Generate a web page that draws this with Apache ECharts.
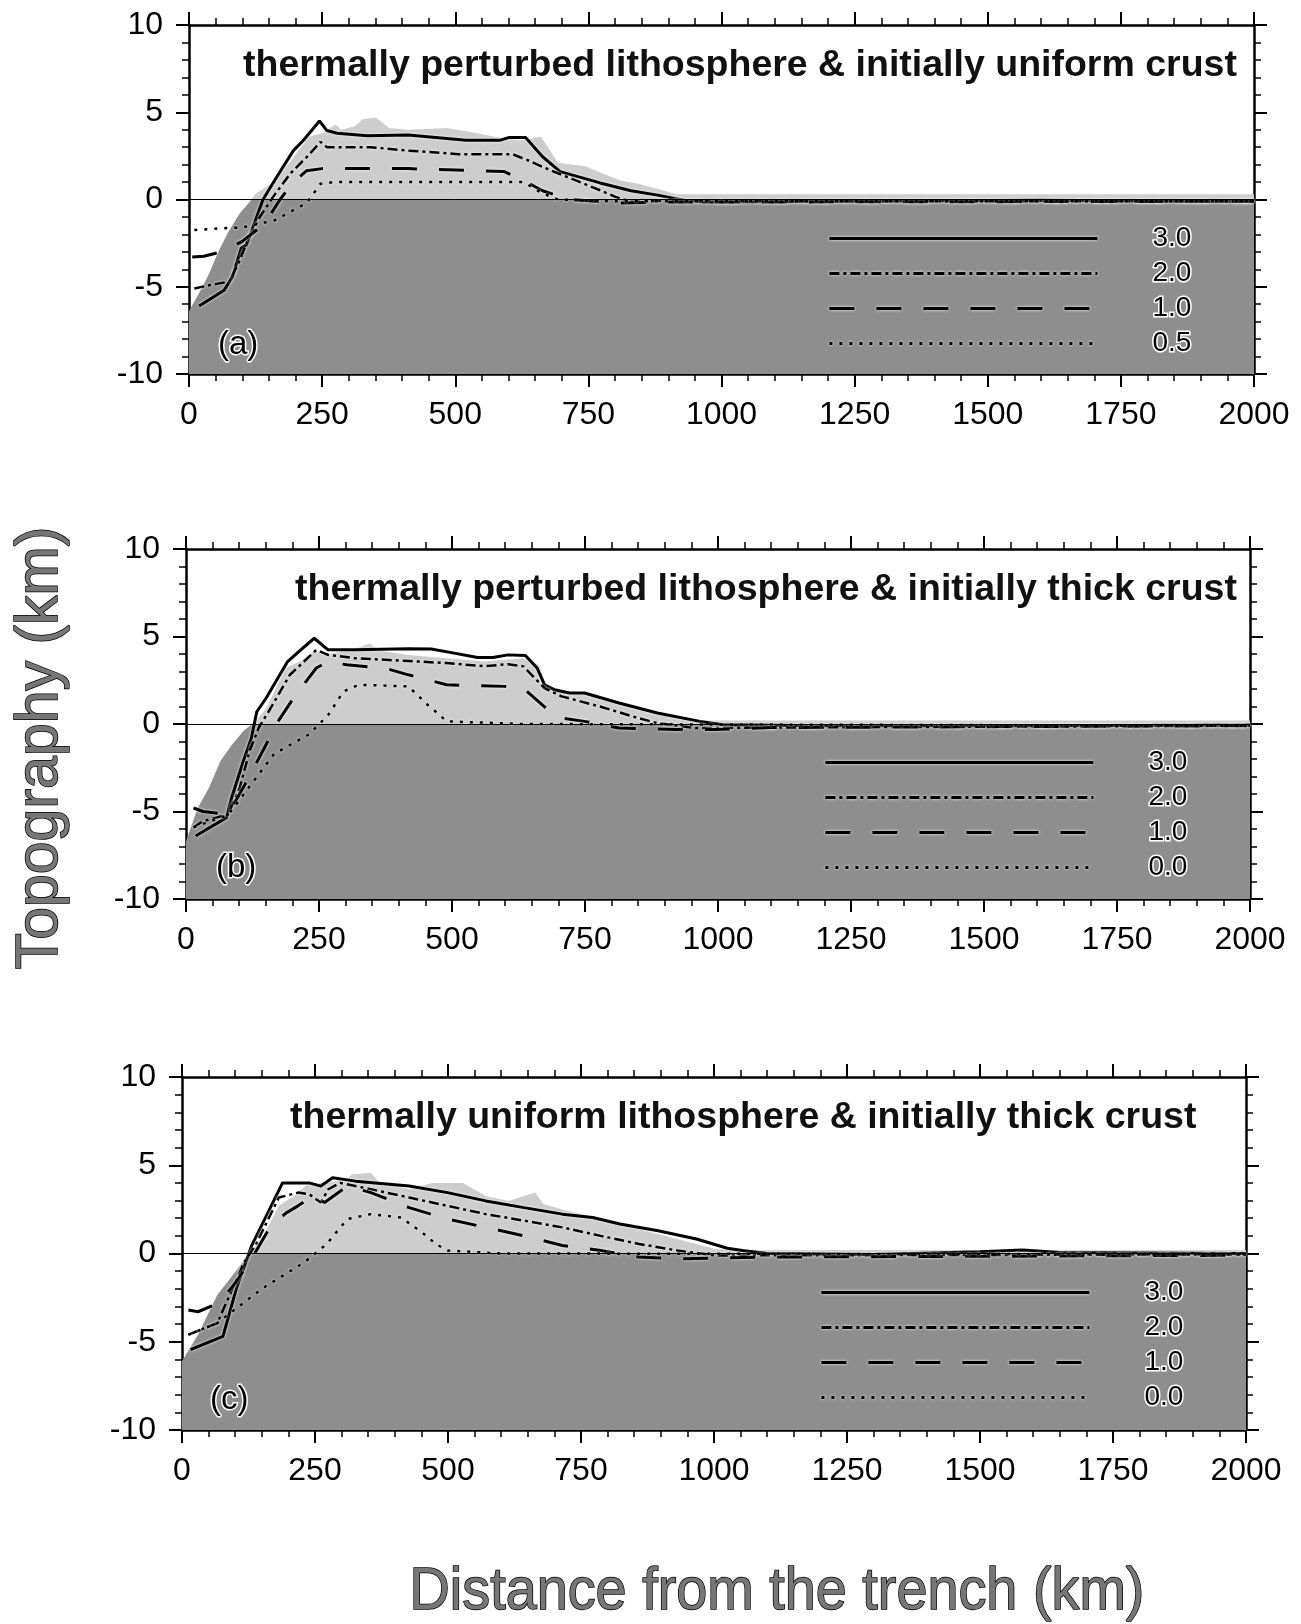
<!DOCTYPE html>
<html><head><meta charset="utf-8">
<script src="https://cdn.jsdelivr.net/npm/echarts@6/dist/echarts.min.js"></script>
<style>html,body{margin:0;padding:0;background:#fff}#c{width:1301px;height:1624px}</style>
</head><body><div id="c"></div>
<script>
// ---------------- data (km) ----------------
const panelTitles = [
  'thermally perturbed lithosphere & initially uniform crust',
  'thermally perturbed lithosphere & initially thick crust',
  'thermally uniform lithosphere & initially thick crust'
];
const panelTags = ['(a)', '(b)', '(c)'];
const legendLabelsA = ['3.0', '2.0', '1.0', '0.5'];
const legendLabelsBC = ['3.0', '2.0', '1.0', '0.0'];

// panel (a)
const aEnvelope = [[0,-6.4],[20,-5.3],[37,-4.3],[55,-3.0],[73,-1.9],[95,-0.8],[115,-0.1],[124,0.3],[153,0.9],[175,1.6],[196,2.4],[225,3.6],[250,3.8],[275,4.3],[286,4.0],[311,4.2],[326,4.6],[351,4.7],[376,4.1],[412,4.0],[484,4.1],[542,3.8],[590,3.5],[628,3.4],[661,3.6],[693,2.1],[744,1.9],[808,1.1],[844,0.9],[916,0.3],[960,0.3],[1500,0.3],[1850,0.3],[2000,0.3]];
const aCurve30 = [[19,-6.1],[66,-5.2],[82,-4.4],[98,-2.8],[108,-2.6],[139,0],[165,1.3],[196,2.8],[215,3.4],[245,4.5],[259,3.95],[278,3.8],[335,3.65],[412,3.7],[520,3.4],[585,3.4],[600,3.55],[632,3.55],[664,2.45],[697,1.6],[772,0.95],[830,0.5],[880,0.25],[931,-0.05],[967,-0.15],[1200,-0.1],[1600,-0.05],[1900,-0.1],[2000,-0.1]];
const aCurve20 = [[10,-5.1],[40,-4.9],[76,-4.7],[95,-3.5],[108,-2.5],[133,-1.0],[158,0.15],[190,1.48],[221,2.43],[247,3.3],[259,3.0],[340,3.0],[412,2.8],[506,2.6],[607,2.6],[636,2.25],[664,1.87],[693,1.5],[772,0.53],[801,0.15],[830,-0.13],[916,-0.05],[1200,-0.1],[2000,-0.1]];
const aCurve10 = [[6,-3.3],[28,-3.25],[60,-3.0],[100,-2.4],[127,-1.75],[146,-1.2],[171,0],[196,1.0],[221,1.65],[250,1.77],[412,1.77],[592,1.6],[628,1.1],[664,0.5],[715,0],[808,-0.2],[900,-0.15],[2000,-0.1]];
const aCurve05 = [[10,-1.75],[63,-1.65],[100,-1.6],[160,-1.2],[221,-0.2],[247,0.9],[272,1.0],[628,1.0],[664,0.35],[693,0],[800,-0.1],[2000,-0.1]];

// panel (b)
const bEnvelope = [[0,-6.7],[22,-4.8],[43,-3.65],[65,-2.1],[86,-1.2],[108,-0.4],[130,0.15],[151,0.9],[187,3.2],[216,3.6],[241,4.2],[259,3.95],[317,4.3],[346,4.6],[360,4.2],[418,3.95],[490,3.76],[562,3.57],[634,3.76],[663,3.4],[677,2.24],[706,1.96],[778,1.48],[850,0.9],[937,0.34],[980,0.2],[2000,0.2]];
const bCurve30 = [[18,-6.4],[76,-5.35],[86,-4.2],[108,-2.1],[123,-0.8],[133,0.7],[151,1.5],[191,3.57],[212,4.14],[241,4.9],[267,4.24],[317,4.24],[418,4.3],[461,4.28],[504,4.05],[548,3.8],[577,3.8],[605,3.95],[638,3.92],[660,3.2],[674,2.24],[692,1.96],[721,1.77],[749,1.77],[814,1.2],[886,0.63],[966,0.15],[1009,-0.04],[1200,-0.1],[1600,-0.1],[2000,-0.05]];
const bCurve20 = [[14,-5.9],[32,-5.55],[79,-5.17],[101,-3.65],[120,-1.5],[137,-0.2],[159,0.9],[195,2.8],[216,3.4],[245,4.24],[267,3.95],[317,3.76],[418,3.6],[490,3.48],[562,3.3],[605,3.42],[634,3.3],[674,2.05],[706,1.58],[778,1.0],[850,0.34],[886,0.05],[958,-0.23],[1100,-0.2],[2000,-0.1]];
const bCurve10 = [[14,-4.8],[32,-5.0],[79,-5.17],[110,-3.5],[144,-1.56],[173,0.15],[202,1.48],[245,3.2],[267,3.57],[302,3.38],[374,3.19],[418,2.81],[490,2.24],[598,2.15],[634,2.05],[677,0.9],[706,0.34],[749,0.15],[814,-0.23],[922,-0.32],[994,-0.32],[1100,-0.2],[2000,-0.1]];
const bCurve00 = [[14,-5.9],[79,-5.2],[166,-1.7],[231,-0.6],[267,0.5],[296,1.86],[324,2.24],[418,2.15],[454,1.1],[476,0.53],[490,0.15],[634,0],[2000,-0.1]];

// panel (c)
const cEnvelope = [[0,-6.1],[30,-4.6],[66,-2.36],[95,-1.24],[124,-0.1],[153,1.0],[182,2.7],[210,3.26],[239,4.0],[268,4.0],[311,4.2],[319,4.48],[355,4.57],[369,4.1],[427,3.64],[470,4.0],[528,4.0],[571,3.26],[614,2.98],[643,3.26],[664,3.45],[679,2.8],[715,2.5],[787,1.95],[859,1.39],[931,0.82],[1003,0.26],[1050,0.2],[2000,0.2]];
const cCurve30 = [[16,-5.45],[77,-4.7],[102,-2.0],[131,0.45],[189,4.0],[239,4.0],[261,3.82],[283,4.29],[326,4.1],[427,3.82],[499,3.45],[571,2.98],[643,2.6],[715,2.23],[772,2.04],[823,1.67],[895,1.29],[967,0.82],[1025,0.3],[1053,0.17],[1100,0.0],[1300,-0.05],[1500,0.1],[1580,0.2],[1650,0.05],[2000,0.0]];
const cCurve20 = [[12,-4.6],[66,-3.95],[95,-2.0],[117,-0.49],[138,0.45],[182,3.17],[218,3.45],[239,3.36],[261,2.89],[275,3.64],[297,4.0],[355,3.64],[427,3.17],[499,2.7],[571,2.23],[643,1.86],[715,1.48],[787,1.0],[859,0.54],[931,0.17],[1003,-0.11],[1200,-0.1],[2000,-0.05]];
const cCurve10 = [[12,-3.2],[30,-3.3],[70,-2.8],[102,-1.6],[138,0.07],[167,1.57],[196,2.3],[218,2.7],[246,3.26],[268,2.89],[311,3.82],[355,3.45],[427,2.6],[499,1.95],[571,1.48],[643,1.0],[715,0.45],[787,0.17],[859,-0.2],[931,-0.3],[1100,-0.2],[2000,-0.1]];
const cCurve00 = [[12,-4.6],[66,-3.95],[150,-2.0],[230,-0.5],[272,0.54],[290,1.2],[311,1.95],[355,2.23],[412,2.04],[455,1.1],[477,0.54],[499,0.17],[600,0],[2000,-0.05]];

// ---------------- layout & style ----------------
const FONT = '"Liberation Sans", Arial, Helvetica, sans-serif';
const DARK = '#8e8e8e', LIGHT = '#cdcdcd';
const grids = [
  {left: 189, top: 25, width: 1065, height: 349},
  {left: 186, top: 549, width: 1064, height: 350},
  {left: 182, top: 1077, width: 1064, height: 353}
];
const titleLeft = [243, 295, 290];
const tagPos = [[218, 328], [216, 851], [210, 1383]];
const legendPos = [[828, 223], [824, 747], [820, 1277]];
const lineStyles = [
  {type: 'solid', width: 3},
  {type: [10, 4, 3, 4], width: 2.5},
  {type: [25, 22], width: 3},
  {type: [3, 7], width: 2.5}
];

const panels = [
  {env: aEnvelope, curves: [aCurve30, aCurve20, aCurve10, aCurve05], labels: legendLabelsA},
  {env: bEnvelope, curves: [bCurve30, bCurve20, bCurve10, bCurve00], labels: legendLabelsBC},
  {env: cEnvelope, curves: [cCurve30, cCurve20, cCurve10, cCurve00], labels: legendLabelsBC}
];

const xAxes = [], yAxes = [], series = [], legends = [], visualMaps = [], titles = [];
const labelMap = {};

function axisCommon(show) {
  return {
    axisLine: {onZero: false, lineStyle: {color: '#000', width: 2.5}},
    axisTick: {show: true, length: 13, lineStyle: {color: '#000', width: 2}},
    minorTick: {show: true, splitNumber: 5, length: 7, lineStyle: {color: '#000', width: 1.5}},
    splitLine: {show: false},
    axisLabel: {show: show, fontSize: 32, color: '#000', fontFamily: FONT,
      formatter: (v) => String(v)}
  };
}

panels.forEach((p, i) => {
  const xb = Object.assign({type: 'value', gridIndex: i, min: 0, max: 2000, interval: 250, position: 'bottom'}, axisCommon(true));
  xb.axisLabel.margin = 25;
  const xt = Object.assign({type: 'value', gridIndex: i, min: 0, max: 2000, interval: 250, position: 'top'}, axisCommon(false));
  const yl = Object.assign({type: 'value', gridIndex: i, min: -10, max: 10, interval: 5, position: 'left'}, axisCommon(true));
  yl.axisLabel.margin = 26;
  const yr = Object.assign({type: 'value', gridIndex: i, min: -10, max: 10, interval: 5, position: 'right'}, axisCommon(false));
  xAxes.push(xb, xt);
  yAxes.push(yl, yr);

  const envIndex = series.length;
  series.push({
    type: 'line', name: 'env' + i, xAxisIndex: 2 * i, yAxisIndex: 2 * i,
    data: p.env, symbol: 'none', silent: true, z: 2,
    lineStyle: {width: 0, opacity: 0},
    areaStyle: {opacity: 1, origin: 'start'},
    markLine: {
      silent: true, symbol: 'none', label: {show: false},
      lineStyle: {color: '#000', width: 1, type: 'solid'},
      data: [{yAxis: 0}]
    }
  });
  visualMaps.push({
    type: 'piecewise', show: false, seriesIndex: envIndex, dimension: 1,
    pieces: [{gte: -10, lt: 0, color: DARK}, {gte: 0, lte: 10, color: LIGHT}]
  });

  const names = [];
  p.curves.forEach((c, k) => {
    const nm = 'p' + i + '-' + k;
    names.push(nm);
    labelMap[nm] = p.labels[k];
    series.push({
      type: 'line', name: nm, xAxisIndex: 2 * i, yAxisIndex: 2 * i,
      data: c, symbol: 'none', z: 4, color: '#000', silent: true,
      lineStyle: Object.assign({color: '#000', cap: 'butt',
        shadowColor: 'rgba(255,255,255,0.9)', shadowBlur: 3}, lineStyles[k])
    });
  });

  legends.push({
    orient: 'vertical', left: legendPos[i][0], top: legendPos[i][1],
    itemWidth: 268, itemHeight: 20, itemGap: 4, padding: 0,
    selectedMode: false, data: names,
    lineStyle: {width: 2.8, shadowColor: 'rgba(255,255,255,0.95)', shadowBlur: 3},
    itemStyle: {opacity: 0, borderWidth: 0},
    formatter: (n) => labelMap[n],
    textStyle: {fontSize: 28, color: '#000', fontFamily: FONT, lineHeight: 20,
      textBorderColor: '#fff', textBorderWidth: 3, padding: [0, 0, 0, 50]}
  });

  titles.push({
    text: panelTitles[i], left: titleLeft[i], top: grids[i].top + 22, padding: 0,
    textStyle: {fontSize: 37.5, fontWeight: 'bold', fontFamily: FONT, color: '#111'}
  });
  titles.push({
    text: panelTags[i], left: tagPos[i][0], top: tagPos[i][1], padding: 0,
    textStyle: {fontSize: 33, fontWeight: 'normal', fontFamily: FONT, color: '#000',
      textBorderColor: '#fff', textBorderWidth: 3}
  });
});

const chart = echarts.init(document.getElementById('c'), null, {renderer: 'canvas'});
chart.setOption({
  animation: false,
  backgroundColor: '#fff',
  title: titles,
  grid: grids,
  xAxis: xAxes,
  yAxis: yAxes,
  visualMap: visualMaps,
  legend: legends,
  series: series,
  graphic: [
    {type: 'text', x: 41, y: 748, rotation: Math.PI / 2, z: 10,
      style: {text: 'Topography (km)', fontSize: 59, fontFamily: FONT, fill: '#767676',
        stroke: '#000', lineWidth: 1.5, align: 'center', verticalAlign: 'middle'}},
    {type: 'text', x: 777, y: 1592, scaleX: 0.93, z: 10,
      style: {text: 'Distance from the trench (km)', fontSize: 60, fontFamily: FONT, fill: '#767676',
        stroke: '#000', lineWidth: 1.5, align: 'center', verticalAlign: 'middle'}}
  ]
});
</script>
</body></html>
